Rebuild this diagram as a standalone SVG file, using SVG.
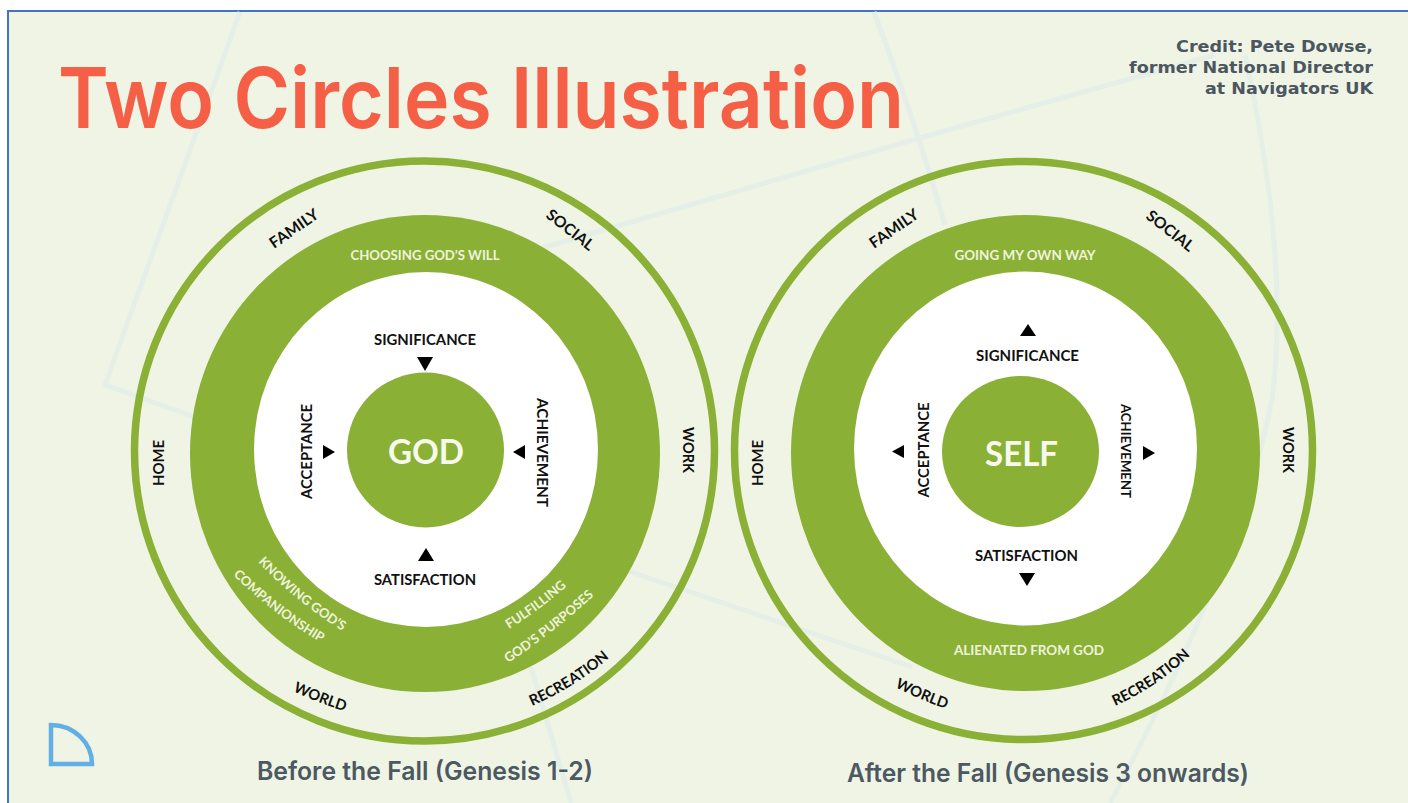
<svg xmlns="http://www.w3.org/2000/svg" width="1408" height="803" viewBox="0 0 1408 803">
<style>
.ln{fill:none;stroke:#e5efe8;stroke-width:5}
.ring{fill:none;stroke:#8ab036;stroke-width:7.500}
.green{fill:#8ab036}
.white{fill:#fff}
.t{font-family:Lato,"Open Sans","Liberation Sans",sans-serif;font-weight:700;fill:#111;font-size:15.500px;text-anchor:middle}
.w{font-family:Lato,"Open Sans","Liberation Sans",sans-serif;font-weight:700;fill:#eef4dc;font-size:14px;text-anchor:middle}
.big{font-family:Lato,"Open Sans","Liberation Sans",sans-serif;font-weight:700;fill:#f6f9ec;font-size:34px;text-anchor:middle}
.sub{font-family:Inter,"Liberation Sans",sans-serif;font-weight:600;fill:#4c5862;font-size:25px;text-anchor:middle}
.cr{font-family:"DejaVu Sans",sans-serif;font-weight:700;fill:#4c5660;font-size:16px;text-anchor:end}
.s{text-anchor:start}
.w.s{font-size:13px}
.t.s{font-size:14.800px}
</style>
<defs>
<path id="p1" d="M532,706 Q578,686 616,652"/>
<path id="p2" d="M293,691 Q318,703 350,713"/>
<path id="p3" d="M258,562 Q295,602 352,637"/>
<path id="p4" d="M233,575 Q273,615 330,648"/>
<path id="p5" d="M509,629 Q540,610 572,582"/>
<path id="p6" d="M508,663 Q553,634 600,590"/>
<path id="p7" d="M1115,706 Q1160,686 1198,648"/>
<path id="p8" d="M895,687 Q920,700 950,710"/>
</defs>
<rect x="8" y="11" width="1402" height="794" fill="#eff4e5" stroke="#4472c4" stroke-width="2"/>
<g id="background-lines">
<path class="ln" d="M240,12 L105,385 L640,575 L912,667"/>
<path class="ln" d="M535,250 L923,137 L1215,55"/>
<path class="ln" d="M874,12 Q915,120 945,225"/>
<path class="ln" d="M1245,55 Q1290,260 1272,400 Q1240,560 1110,803"/>
<path class="ln" d="M531,667 L571,803"/>
</g>
<g id="title"><text x="58" y="128" font-family="Inter,'Liberation Sans',sans-serif" font-weight="600" font-size="84" fill="#f55f45" textLength="846" lengthAdjust="spacingAndGlyphs" style="font-variant-ligatures:none">Two Circles Illustration</text></g>
<g id="credit">
<text class="cr" x="1373" y="52" textLength="197" lengthAdjust="spacingAndGlyphs">Credit: Pete Dowse,</text>
<text class="cr" x="1373" y="73" textLength="244" lengthAdjust="spacingAndGlyphs">former National Director</text>
<text class="cr" x="1373" y="94" textLength="168" lengthAdjust="spacingAndGlyphs">at Navigators UK</text>
</g>
<g id="logo"><path d="M51,725 A41,39 0 0 1 92,764 L51,764 Z" fill="none" stroke="#62b0e3" stroke-width="4.500"/></g>
<g id="before-circle">
<ellipse class="ring" cx="424.500" cy="451" rx="290" ry="290"/>
<ellipse class="green" cx="425" cy="453.500" rx="235" ry="238.500"/>
<ellipse class="white" cx="426" cy="449.500" rx="172" ry="177.500"/>
<ellipse class="green" cx="425.500" cy="450" rx="78.500" ry="77.500"/>
<text class="big" x="426" y="464" textLength="76" lengthAdjust="spacingAndGlyphs">GOD</text>
<text class="w" x="425" y="260" textLength="149" lengthAdjust="spacingAndGlyphs">CHOOSING GOD’S WILL</text>
<text class="t" x="425" y="345" textLength="102" lengthAdjust="spacingAndGlyphs">SIGNIFICANCE</text>
<text class="t" x="425" y="585" textLength="102" lengthAdjust="spacingAndGlyphs">SATISFACTION</text>
<text class="t" transform="translate(312,451.500) rotate(-90)" textLength="95" lengthAdjust="spacingAndGlyphs">ACCEPTANCE</text>
<text class="t" transform="translate(537,452.500) rotate(90)" textLength="109" lengthAdjust="spacingAndGlyphs">ACHIEVEMENT</text>
<path d="M417,357 H433 L425,371 Z"/><path d="M418,561 H434 L426,548 Z"/><path d="M323,445 L335,452 L323,459 Z"/><path d="M525,445 L513,452 L525,459 Z"/>
<text class="t" transform="translate(164,463) rotate(-90)" textLength="46" lengthAdjust="spacingAndGlyphs">HOME</text>
<text class="t" transform="translate(683,450) rotate(90)" textLength="46" lengthAdjust="spacingAndGlyphs">WORK</text>
<text class="t" transform="translate(297,233) rotate(-35)" textLength="56" lengthAdjust="spacingAndGlyphs">FAMILY</text>
<text class="t" transform="translate(567,234) rotate(38)" textLength="56" lengthAdjust="spacingAndGlyphs">SOCIAL</text>
<text class="t s"><textPath href="#p2">WORLD</textPath></text>
<text class="t s"><textPath href="#p1">RECREATION</textPath></text>
<text class="w s"><textPath href="#p3">KNOWING GOD’S</textPath></text>
<text class="w s"><textPath href="#p4">COMPANIONSHIP</textPath></text>
<text class="w s"><textPath href="#p5">FULFILLING</textPath></text>
<text class="w s"><textPath href="#p6">GOD’S PURPOSES</textPath></text>
<text class="sub" x="425" y="780" textLength="336" lengthAdjust="spacingAndGlyphs">Before the Fall (Genesis 1-2)</text>
</g>
<g id="after-circle">
<ellipse class="ring" cx="1023.500" cy="450.500" rx="289" ry="289"/>
<ellipse class="green" cx="1025.500" cy="453" rx="234.500" ry="238"/>
<ellipse class="white" cx="1025.500" cy="448.500" rx="171.500" ry="177"/>
<ellipse class="green" cx="1020.500" cy="451.500" rx="78.500" ry="75.500"/>
<text class="big" x="1021.500" y="466" textLength="73" lengthAdjust="spacingAndGlyphs">SELF</text>
<text class="w" x="1025" y="260" textLength="141" lengthAdjust="spacingAndGlyphs">GOING MY OWN WAY</text>
<text class="w" x="1029" y="655" textLength="150" lengthAdjust="spacingAndGlyphs">ALIENATED FROM GOD</text>
<text class="t" x="1027.500" y="361" textLength="103" lengthAdjust="spacingAndGlyphs">SIGNIFICANCE</text>
<text class="t" x="1026.500" y="561" textLength="103" lengthAdjust="spacingAndGlyphs">SATISFACTION</text>
<text class="t" transform="translate(929,450) rotate(-90)" textLength="95" lengthAdjust="spacingAndGlyphs">ACCEPTANCE</text>
<text class="t" transform="translate(1121,451) rotate(90)" style="font-size:13.500px" textLength="94" lengthAdjust="spacingAndGlyphs">ACHIEVEMENT</text>
<path d="M1020,336 H1036 L1028,324 Z"/><path d="M1019,573 H1035 L1027,586 Z"/><path d="M904,445 L892,451.500 L904,458 Z"/><path d="M1143,446 L1155,453 L1143,460 Z"/>
<text class="t" transform="translate(763,463) rotate(-90)" textLength="46" lengthAdjust="spacingAndGlyphs">HOME</text>
<text class="t" transform="translate(1283,450) rotate(90)" textLength="46" lengthAdjust="spacingAndGlyphs">WORK</text>
<text class="t" transform="translate(897,233) rotate(-35)" textLength="56" lengthAdjust="spacingAndGlyphs">FAMILY</text>
<text class="t" transform="translate(1167,235) rotate(38)" textLength="56" lengthAdjust="spacingAndGlyphs">SOCIAL</text>
<text class="t s"><textPath href="#p8">WORLD</textPath></text>
<text class="t s"><textPath href="#p7">RECREATION</textPath></text>
<text class="sub" x="1048" y="782" textLength="402" lengthAdjust="spacingAndGlyphs">After the Fall (Genesis 3 onwards)</text>
</g>
</svg>
